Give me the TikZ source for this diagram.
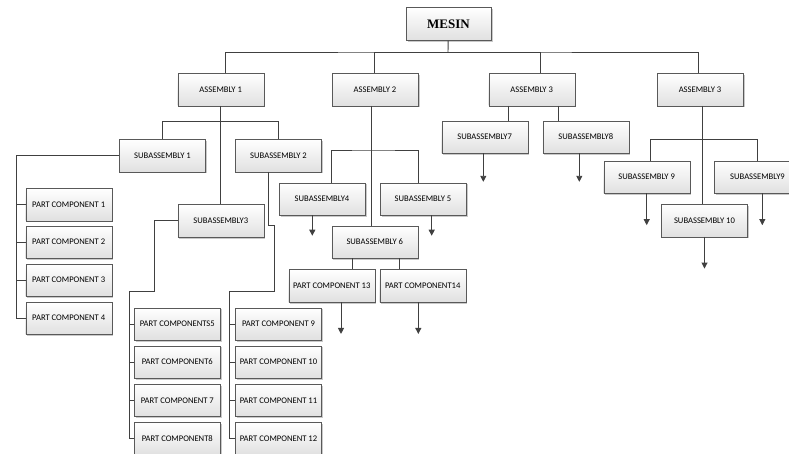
\documentclass[tikz,border=0pt]{standalone}
\usepackage{fontspec}
\setmainfont{Carlito}
\newfontfamily\headfont{Liberation Serif}
\usetikzlibrary{arrows.meta,shadows}

\begin{document}
\begin{tikzpicture}[x=1pt,y=-1pt,
  box/.style={draw=black!65,top color=white,bottom color=black!12,
    minimum width=86pt,minimum height=32.5pt,inner sep=0pt,
    font=\fontsize{8.6}{10}\selectfont,
    drop shadow={shadow xshift=1.6pt,shadow yshift=-1.6pt,fill=black!30,opacity=0.7}},
  link/.style={draw=black!75,line width=0.9pt},
  arr/.style={link,-{Triangle[length=6pt,width=6pt]}}]
\useasboundingbox (0,0) rectangle (789,454);

\node[box,minimum width=85pt,minimum height=33pt,font=\headfont\bfseries\fontsize{13}{15}\selectfont] (mesin) at (448.5,24) {MESIN};

\node[box] (a1) at (220.7,89.5) {ASSEMBLY 1};
\node[box] (a2) at (375,89.5) {ASSEMBLY 2};
\node[box] (a3) at (531.7,89.5) {ASSEMBLY 3};
\node[box] (a3b) at (700,89.5) {ASSEMBLY 3};

\node[box] (s1) at (162.5,155.5) {SUBASSEMBLY 1};
\node[box] (s2) at (278.5,155.5) {SUBASSEMBLY 2};
\node[box] (s3) at (220.8,220.8) {SUBASSEMBLY3};
\node[box] (s4) at (322,199) {SUBASSEMBLY4};
\node[box] (s5) at (423,199) {SUBASSEMBLY 5};
\node[box] (s6) at (374.8,242) {SUBASSEMBLY 6};
\node[box] (s7) at (484.7,137) {SUBASSEMBLY7};
\node[box] (s8) at (585.8,137) {SUBASSEMBLY8};
\node[box] (s9) at (646.7,177) {SUBASSEMBLY 9};
\node[box] (s9b) at (757.5,177) {SUBASSEMBLY9};
\node[box] (s10) at (704.5,220.5) {SUBASSEMBLY 10};

\node[box] (pc1) at (68.7,204.5) {PART COMPONENT 1};
\node[box] (pc2) at (68.7,242) {PART COMPONENT 2};
\node[box] (pc3) at (68.7,280) {PART COMPONENT 3};
\node[box] (pc4) at (68.7,318.2) {PART COMPONENT 4};

\node[box] (pc5) at (177.3,324) {PART COMPONENTS5};
\node[box] (pc6) at (177.3,362) {PART COMPONENT6};
\node[box] (pc7) at (177.3,400.3) {PART COMPONENT 7};
\node[box] (pc8) at (177.3,438.7) {PART COMPONENT8};

\node[box] (pc9) at (278.5,324) {PART COMPONENT 9};
\node[box] (pc10) at (278.5,362) {PART COMPONENT 10};
\node[box] (pc11) at (278.5,400.3) {PART COMPONENT 11};
\node[box] (pc12) at (278.5,438.7) {PART COMPONENT 12};

\node[box] (pc13) at (331.7,285.8) {PART COMPONENT 13};
\node[box] (pc14) at (422.7,285.8) {PART COMPONENT14};

\coordinate (busA) at (448,52);
\coordinate (busS12) at (220,121.7);
\coordinate (busS45) at (372,150);
\coordinate (busS910) at (703,139.3);
\coordinate (s3bend) at (154,291.7);
\coordinate (s2jog) at (274,225.7);
\coordinate (s2bend) at (274,291.7);

\draw[link] (mesin) -- (busA);
\draw[link] ([xshift=5pt]a1.north) |- (busA) -| ([xshift=-1.3pt]a3b.north);
\draw[link] (busA) -| ([xshift=-0.7pt]a2.north);
\draw[link] (busA) -| ([xshift=9pt]a3.north);

\draw[link] ([xshift=-0.7pt]a1.south) -- ([xshift=-0.8pt]s3.north);
\draw[link] (s1.north) |- (busS12) -| (s2.north);

\draw[link] (s1.west) -| ([xshift=-9.3pt]pc4.west) -- (pc4.west);
\foreach \i in {1,2,3}
  \draw[link] (pc\i.west) -- ++(-9.3,0);

\draw[link] (s3.west) -| (s3bend) -| ([xshift=-4.7pt]pc8.west) -- (pc8.west);
\foreach \i in {5,6,7}
  \draw[link] (pc\i.west) -- ++(-4.7,0);

\draw[link] ([xshift=-10.2pt]s2.south) |- (s2jog) -- (s2bend) -| ([xshift=-5.7pt]pc12.west) -- (pc12.west);
\foreach \i in {9,10,11}
  \draw[link] (pc\i.west) -- ++(-5.7,0);

\draw[link] ([xshift=-3.2pt]a2.south) -- ([xshift=-3pt]s6.north);
\draw[link] ([xshift=9.3pt]s4.north) |- (busS45) -| ([xshift=-4.7pt]s5.north);
\draw[arr] ([xshift=-9.7pt]s4.south) -- ++(0,20.3);
\draw[arr] ([xshift=8.7pt]s5.south) -- ++(0,20.3);
\draw[link] ([xshift=-22.1pt]s6.south) -- ([xshift=21pt]pc13.north);
\draw[link] ([xshift=24.2pt]s6.south) -- ([xshift=-23.7pt]pc14.north);
\draw[arr] ([xshift=9.3pt]pc13.south) -- ++(0,31.7);
\draw[arr] ([xshift=-4.4pt]pc14.south) -- ++(0,31.7);

\draw[link] ([xshift=-23.4pt]a3.south) -- ([xshift=23.6pt]s7.north);
\draw[link] ([xshift=26.6pt]a3.south) -- ([xshift=-27.5pt]s8.north);
\draw[arr] ([xshift=-1.4pt]s7.south) -- ++(0,28.4);
\draw[arr] ([xshift=-6.5pt]s8.south) -- ++(0,28.4);

\draw[link] ([xshift=2.7pt]a3b.south) -- ([xshift=-1.8pt]s10.north);
\draw[link] ([xshift=3.3pt]s9.north) |- (busS910) -| (s9b.north);
\draw[arr] (s9.south) -- ++(0,31.7);
\draw[arr] ([xshift=4.8pt]s9b.south) -- ++(0,31.7);
\draw[arr] (s10.south) -- ++(0,31.6);

\end{tikzpicture}
\end{document}
